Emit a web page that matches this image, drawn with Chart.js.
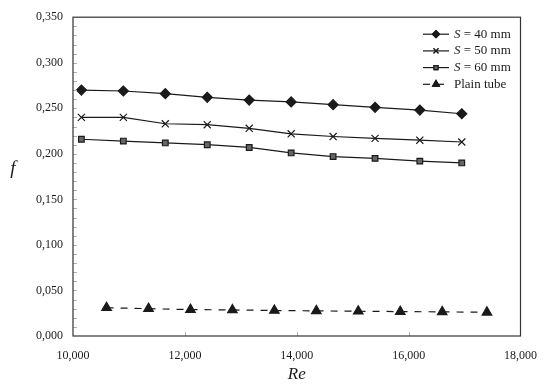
<!DOCTYPE html>
<html>
<head>
<meta charset="utf-8">
<script src="https://cdn.jsdelivr.net/npm/chart.js@4/dist/chart.umd.min.js"></script>
<style>
  html, body { margin: 0; padding: 0; background: #fff; }
  #wrap { width: 550px; height: 386px; position: relative; }
</style>
</head>
<body>
<div id="wrap"><canvas id="c"></canvas></div>
<script>
// friction factor vs Reynolds number
const reS = [10150, 10900, 11650, 12400, 13150, 13900, 14650, 15400, 16200, 16950];
const fS40 = [0.270, 0.269, 0.266, 0.262, 0.259, 0.257, 0.254, 0.251, 0.248, 0.244];
const fS50 = [0.240, 0.240, 0.233, 0.232, 0.228, 0.222, 0.219, 0.217, 0.215, 0.213];
const fS60 = [0.216, 0.214, 0.212, 0.210, 0.207, 0.201, 0.197, 0.195, 0.192, 0.190];
const rePlain = [10600, 11350, 12100, 12850, 13600, 14350, 15100, 15850, 16600, 17400];
const fPlain = [0.031, 0.030, 0.029, 0.0286, 0.028, 0.0276, 0.0272, 0.0268, 0.0265, 0.026];

const legendLabels = [['S', ' = 40 mm'], ['S', ' = 50 mm'], ['S', ' = 60 mm'], ['', 'Plain tube']];
const xTicks = [10000, 12000, 14000, 16000, 18000];
const yTitle = 'f';

const ink = '#1a1a1a';
const serif = '"Liberation Serif", "DejaVu Serif", serif';

function pts(xs, ys) {
    return xs.map((x, i) => ({ x: x, y: ys[i] }));
}

function series(label, xs, ys, style, radius, fill, dash) {
    return {
        label: label,
        data: pts(xs, ys),
        showLine: true,
        borderColor: ink,
        borderWidth: 1.2,
        borderDash: dash || [],
        pointStyle: style,
        pointRadius: radius,
        pointBorderWidth: 1.2,
        pointBorderColor: ink,
        pointBackgroundColor: fill,
        tension: 0
    };
}

// inward ticks, plot frame, upright y title and legend
const framePlugin = {
    id: 'frame',
    afterDraw(chart) {
        const ctx = chart.ctx;
        const a = chart.chartArea;
        const xs = chart.scales.x, ys = chart.scales.y;
        ctx.save();
        ctx.strokeStyle = '#b0b0b0';
        ctx.lineWidth = 1;
        for (let v = 0.01; v < 0.35; v += 0.01) {
            const y = Math.round(ys.getPixelForValue(v)) + 0.5;
            ctx.beginPath();
            ctx.moveTo(a.left, y);
            ctx.lineTo(a.left + 4, y);
            ctx.stroke();
        }
        xTicks.slice(1, -1).forEach(v => {
            const x = Math.round(xs.getPixelForValue(v)) + 0.5;
            ctx.beginPath();
            ctx.moveTo(x, a.bottom);
            ctx.lineTo(x, a.bottom - 4);
            ctx.stroke();
        });
        ctx.strokeStyle = '#333';
        ctx.lineWidth = 1.2;
        ctx.strokeRect(a.left, a.top, a.right - a.left, a.bottom - a.top);

        ctx.fillStyle = ink;
        ctx.font = 'italic 19px ' + serif;
        ctx.textAlign = 'center';
        ctx.textBaseline = 'middle';
        ctx.fillText(yTitle, 13, (a.top + a.bottom) / 2 - 8);

        // legend
        const x0 = a.left + 350, x1 = x0 + 26, tx = x1 + 5;
        chart.data.datasets.forEach((ds, i) => {
            const y = a.top + 17 + i * 16.7;
            ctx.strokeStyle = ink;
            ctx.lineWidth = 1.2;
            ctx.setLineDash(ds.borderDash);
            ctx.beginPath();
            ctx.moveTo(x0, y);
            ctx.lineTo(x1, y);
            ctx.stroke();
            ctx.setLineDash([]);
            ctx.fillStyle = ds.pointBackgroundColor;
            Chart.helpers.drawPoint(ctx, {
                pointStyle: ds.pointStyle,
                radius: ds.pointRadius * 0.7,
                borderWidth: 1
            }, (x0 + x1) / 2, y);
            if (ds.pointStyle !== 'crossRot') ctx.fill();
            ctx.stroke();
            ctx.fillStyle = ink;
            ctx.textBaseline = 'middle';
            ctx.textAlign = 'left';
            let x = tx;
            const parts = legendLabels[i];
            if (parts[0]) {
                ctx.font = 'italic 13px ' + serif;
                ctx.fillText(parts[0], x, y);
                x += ctx.measureText(parts[0]).width;
            }
            ctx.font = '13px ' + serif;
            ctx.fillText(parts[1], x, y);
        });
        ctx.restore();
    }
};

new Chart(document.getElementById('c'), {
    type: 'scatter',
    data: {
        datasets: [
            series('S = 40 mm', reS, fS40, 'rectRot', 5, ink),
            series('S = 50 mm', reS, fS50, 'crossRot', 5, ink),
            series('S = 60 mm', reS, fS60, 'rect', 4, '#666'),
            series('Plain tube', rePlain, fPlain, 'triangle', 5.5, ink, [7, 7])
        ]
    },
    options: {
        responsive: true,
        maintainAspectRatio: false,
        animation: false,
        layout: { padding: { left: 0, right: 17, top: 10, bottom: 0 } },
        plugins: {
            legend: { display: false },
            tooltip: { enabled: false }
        },
        scales: {
            x: {
                type: 'linear',
                min: 10000,
                max: 18000,
                afterBuildTicks(s) { s.ticks = xTicks.map(v => ({ value: v })); },
                afterFit(s) { s.height = 50; },
                grid: { display: false, drawTicks: false },
                border: { display: false },
                ticks: {
                    padding: 13,
                    color: ink,
                    font: { family: serif, size: 12 },
                    callback: v => v.toLocaleString('en-US')
                },
                title: {
                    display: true,
                    text: 'Re',
                    color: ink,
                    padding: { top: 2, bottom: 1 },
                    font: { family: serif, size: 17, style: 'italic' }
                }
            },
            y: {
                min: 0,
                max: 0.35,
                afterFit(s) { s.width = 73; },
                grid: { display: false, drawTicks: false },
                border: { display: false },
                ticks: {
                    stepSize: 0.05,
                    padding: 10,
                    color: ink,
                    font: { family: serif, size: 12 },
                    callback: v => v.toFixed(3).replace('.', ',')
                },
                title: { display: false }
            }
        }
    },
    plugins: [framePlugin]
});
</script>
</body>
</html>
